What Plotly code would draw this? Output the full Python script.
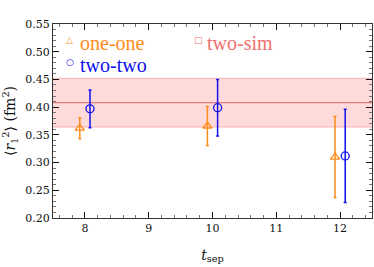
import plotly.graph_objects as go

# data
tsep = [8, 10, 12]
one_one_x = [7.92, 9.92, 11.92]
one_one_y = [0.362, 0.366, 0.310]
one_one_err = [0.019, 0.035, 0.073]
two_two_x = [8.08, 10.08, 12.08]
two_two_y = [0.397, 0.399, 0.312]
two_two_err = [0.034, 0.051, 0.084]
band_x = [7.5, 12.5]
band_center = 0.408
band_err = 0.044
legend_labels = ["one-one", "two-sim", "two-two"]

orange = "#FF8C1A"
blue = "#1010F0"
pink = "#F07070"
serif = "DejaVu Serif, Liberation Serif, serif"

fig = go.Figure()

# two-sim band
fig.add_trace(go.Scatter(x=band_x, y=[band_center - band_err] * 2, mode="lines",
                         line=dict(color="rgba(240,112,112,0.45)", width=1),
                         showlegend=False, hoverinfo="skip"))
fig.add_trace(go.Scatter(x=band_x, y=[band_center + band_err] * 2, mode="lines",
                         line=dict(color="rgba(240,112,112,0.45)", width=1),
                         fill="tonexty", fillcolor="rgba(255,150,150,0.35)",
                         showlegend=False, hoverinfo="skip"))
fig.add_trace(go.Scatter(x=band_x, y=[band_center] * 2, mode="lines",
                         line=dict(color="rgba(225,100,100,0.8)", width=1.2),
                         showlegend=False, hoverinfo="skip"))

fig.add_trace(go.Scatter(
    x=one_one_x, y=one_one_y, mode="markers", name=legend_labels[0], showlegend=False,
    marker=dict(symbol="triangle-up-open", size=8, color=orange, line=dict(width=1.3)),
    error_y=dict(type="data", array=one_one_err, color=orange, thickness=1.5, width=1.5),
))
fig.add_trace(go.Scatter(
    x=two_two_x, y=two_two_y, mode="markers", name=legend_labels[2], showlegend=False,
    marker=dict(symbol="circle-open", size=8, color=blue, line=dict(width=1.3)),
    error_y=dict(type="data", array=two_two_err, color=blue, thickness=1.5, width=1.5),
))

# legend drawn as annotations
leg = [
    (legend_labels[0], "△", orange, 0.078, 0.9, 0.053, 0.92),
    (legend_labels[1], "□", pink, 0.476, 0.9, 0.457, 0.92),
    (legend_labels[2], "○", blue, 0.078, 0.787, 0.053, 0.804),
]
for label, sym, col, tx, ty, mx, my in leg:
    fig.add_annotation(xref="paper", yref="paper", x=tx, y=ty, xanchor="left", yanchor="middle",
                       text=label, showarrow=False,
                       font=dict(family="Liberation Serif, serif", size=20, color=col))
    fig.add_annotation(xref="paper", yref="paper", x=mx, y=my, xanchor="center", yanchor="middle",
                       text=sym, showarrow=False,
                       font=dict(family="DejaVu Sans", size=9, color=col))

axis_common = dict(
    showline=True, linecolor="#333", linewidth=1, mirror="allticks",
    ticks="inside", ticklen=6, tickwidth=1.3, tickcolor="#111",
    showgrid=False, zeroline=False, automargin=False,
    tickfont=dict(family=serif, size=11, color="#111"),
)

fig.update_xaxes(
    range=[7.5, 12.5], tickmode="linear", tick0=8, dtick=1,
    minor=dict(dtick=0.2, tick0=7.6, ticks="inside", ticklen=3, tickcolor="#777", tickwidth=1),
    title=dict(text="<i>t</i><sub>sep</sub>", font=dict(family=serif, size=14, color="#111")),
    **axis_common,
)
fig.update_yaxes(
    range=[0.20, 0.55], tickmode="linear", tick0=0.2, dtick=0.05, tickformat=".2f",
    minor=dict(dtick=0.01, ticks="inside", ticklen=3, tickcolor="#777", tickwidth=1),
    title=dict(text="⟨<i>r</i><sub>1</sub><sup>2</sup>⟩ (fm<sup>2</sup>)",
               font=dict(family=serif, size=14, color="#111")),
    **axis_common,
)

fig.update_layout(
    width=374, height=267,
    margin=dict(l=53, r=2, t=24, b=49),
    plot_bgcolor="white", paper_bgcolor="white",
    showlegend=False,
)

fig.write_html("out.html", config={"displayModeBar": False},
               post_script="document.body.style.margin='0';")
